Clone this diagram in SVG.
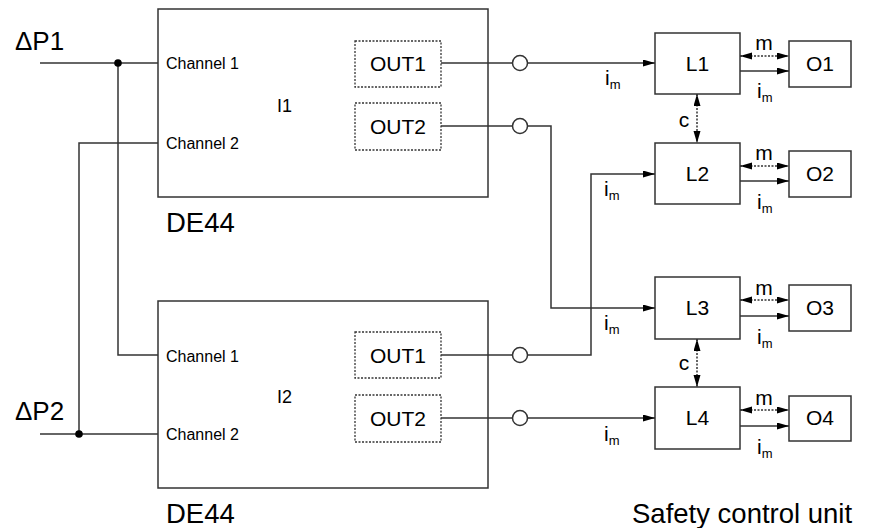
<svg xmlns="http://www.w3.org/2000/svg" width="869" height="528" viewBox="0 0 869 528">
<style>
.box{fill:#fff;stroke:#333;stroke-width:1.5}
.dot{fill:none;stroke:#333;stroke-width:1.3;stroke-dasharray:2 1.5}
.ln{fill:none;stroke:#333;stroke-width:1.5}
.dl{fill:none;stroke:#333;stroke-width:1.5;stroke-dasharray:2 1.5}
.ar{marker-end:url(#ah)}
.bi{marker-start:url(#ah);marker-end:url(#ah)}
.circ{fill:#fff;stroke:#333;stroke-width:1.5}
text{font-family:"Liberation Sans",Arial,Helvetica,sans-serif;fill:#000}
.big{font-size:27.5px}
.dp{font-size:26px}
.ch{font-size:16px}
.nm{font-size:18px}
.lab{font-size:21px}
.mid{text-anchor:middle}
.sub{font-size:13px}
</style>
<defs>
<marker id="ah" markerUnits="userSpaceOnUse" markerWidth="13" markerHeight="8" refX="12" refY="3.5" orient="auto-start-reverse">
<path d="M0,0 L12,3.5 L0,7 z" fill="#000"/>
</marker>
</defs>

<g id="I1">
<rect class="box" x="158" y="9" width="330" height="188"/>
<text class="ch" x="166" y="69">Channel 1</text>
<text class="ch" x="166" y="149">Channel 2</text>
<text class="nm" x="277" y="112">I1</text>
<rect class="dot" x="355" y="41" width="86" height="46"/>
<text class="lab mid" x="398" y="71">OUT1</text>
<rect class="dot" x="355" y="103" width="86" height="47"/>
<text class="lab mid" x="398" y="134">OUT2</text>
<text class="big" x="166" y="232">DE44</text>
</g>

<g id="I2">
<rect class="box" x="158" y="301" width="330" height="187"/>
<text class="ch" x="166" y="362">Channel 1</text>
<text class="ch" x="166" y="440">Channel 2</text>
<text class="nm" x="277" y="403">I2</text>
<rect class="dot" x="355" y="332" width="86" height="46"/>
<text class="lab mid" x="398" y="363">OUT1</text>
<rect class="dot" x="355" y="395" width="86" height="47"/>
<text class="lab mid" x="398" y="426">OUT2</text>
<text class="big" x="166" y="523">DE44</text>
</g>

<g id="inputs">
<text class="dp" x="15" y="50">ΔP1</text>
<text class="dp" x="15" y="420">ΔP2</text>
</g>

<g id="L1"><rect class="box" x="655" y="33" width="85" height="61"/><text class="lab mid" x="697.5" y="71">L1</text></g>
<g id="L2"><rect class="box" x="655" y="143" width="85" height="61"/><text class="lab mid" x="697.5" y="181">L2</text></g>
<g id="L3"><rect class="box" x="655" y="277" width="85" height="62"/><text class="lab mid" x="697.5" y="315">L3</text></g>
<g id="L4"><rect class="box" x="655" y="387" width="85" height="62"/><text class="lab mid" x="697.5" y="425">L4</text></g>
<g id="O1"><rect class="box" x="789" y="41" width="62" height="46"/><text class="lab mid" x="820" y="71">O1</text></g>
<g id="O2"><rect class="box" x="789" y="151" width="62" height="46"/><text class="lab mid" x="820" y="181">O2</text></g>
<g id="O3"><rect class="box" x="789" y="285" width="62" height="46"/><text class="lab mid" x="820" y="315">O3</text></g>
<g id="O4"><rect class="box" x="789" y="396" width="62" height="45"/><text class="lab mid" x="820" y="425">O4</text></g>
<g id="unit"><text class="big" x="632" y="523">Safety control unit</text></g>

<g id="connectors">
<path class="ln" d="M40,63 H158"/>
<path class="ln" d="M118,63 V355 H158"/>
<path class="ln" d="M40,434 H158"/>
<path class="ln" d="M79,434 V143 H158"/>
<circle cx="118" cy="63" r="3.8" fill="#000"/>
<circle cx="79" cy="434" r="3.8" fill="#000"/>

<path class="ln" d="M441,63 H512.5"/>
<path class="ln ar" d="M527.5,63 H655"/>
<path class="ln" d="M441,126 H512.5"/>
<path class="ln ar" d="M527.5,126 H551 V308 H655"/>
<path class="ln" d="M441,355 H512.5"/>
<path class="ln ar" d="M527.5,355 H591 V174 H655"/>
<path class="ln" d="M441,418 H512.5"/>
<path class="ln ar" d="M527.5,418 H655"/>
<circle class="circ" cx="520" cy="63" r="7.5"/>
<circle class="circ" cx="520" cy="126" r="7.5"/>
<circle class="circ" cx="520" cy="355" r="7.5"/>
<circle class="circ" cx="520" cy="418" r="7.5"/>

<path class="dl bi" d="M740,56 H789"/>
<path class="ln ar" d="M740,71 H789"/>
<path class="dl bi" d="M740,166 H789"/>
<path class="ln ar" d="M740,181 H789"/>
<path class="dl bi" d="M740,300 H789"/>
<path class="ln ar" d="M740,316 H789"/>
<path class="dl bi" d="M740,410 H789"/>
<path class="ln ar" d="M740,426 H789"/>
<path class="dl bi" d="M697,94 V143"/>
<path class="dl bi" d="M697,339 V387"/>

<text class="lab" x="605" y="85">i<tspan class="sub" dy="4">m</tspan></text>
<text class="lab" x="604" y="196">i<tspan class="sub" dy="4">m</tspan></text>
<text class="lab" x="604" y="330">i<tspan class="sub" dy="4">m</tspan></text>
<text class="lab" x="604" y="441">i<tspan class="sub" dy="4">m</tspan></text>
<text class="lab" x="757" y="98">i<tspan class="sub" dy="4">m</tspan></text>
<text class="lab" x="757" y="209">i<tspan class="sub" dy="4">m</tspan></text>
<text class="lab" x="757" y="344">i<tspan class="sub" dy="4">m</tspan></text>
<text class="lab" x="757" y="454">i<tspan class="sub" dy="4">m</tspan></text>
<text class="lab mid" x="764" y="50">m</text>
<text class="lab mid" x="764" y="160">m</text>
<text class="lab mid" x="764" y="295">m</text>
<text class="lab mid" x="764" y="405">m</text>
<text class="lab mid" x="684" y="127">c</text>
<text class="lab mid" x="684" y="370">c</text>
</g>
</svg>
